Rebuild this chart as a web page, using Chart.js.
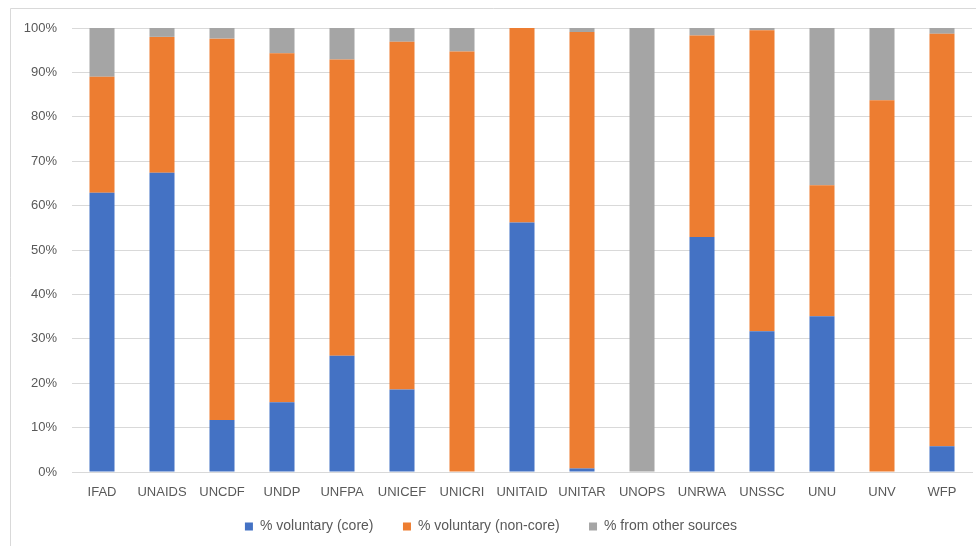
<!DOCTYPE html>
<html>
<head>
<meta charset="utf-8">
<script src="https://cdn.jsdelivr.net/npm/chart.js@4/dist/chart.umd.min.js"></script>
<style>
  html, body { margin: 0; padding: 0; background: #ffffff; }
  #wrap { width: 976px; height: 546px; position: relative; }
</style>
</head>
<body>
<div id="wrap"><canvas id="c" width="976" height="546"></canvas></div>
<script>
const categories = ['IFAD','UNAIDS','UNCDF','UNDP','UNFPA','UNICEF','UNICRI','UNITAID','UNITAR','UNOPS','UNRWA','UNSSC','UNU','UNV','WFP'];
const voluntaryCore    = [62.9, 67.4, 11.7, 15.7, 26.2, 18.6, 0,    56.2, 0.8,  0,   52.9, 31.7, 35.1, 0,    5.8];
const voluntaryNonCore = [26.1, 30.6, 85.9, 78.6, 66.7, 78.3, 94.7, 43.8, 98.3, 0,   45.4, 67.8, 29.5, 83.7, 92.9];
const otherSources     = [11.0, 2.0,  2.4,  5.7,  7.1,  3.1,  5.3,  0,    0.9,  100, 1.7,  0.5,  35.4, 16.3, 1.3];
const seriesNames = ['% voluntary (core)', '% voluntary (non-core)', '% from other sources'];
const yTicks = [0,10,20,30,40,50,60,70,80,90,100];

const framePlugin = {
  id: 'frame',
  beforeDraw(chart) {
    const ctx = chart.ctx;
    ctx.save();
    ctx.fillStyle = '#ffffff';
    ctx.fillRect(0, 0, chart.width, chart.height);
    ctx.strokeStyle = '#d9d9d9';
    ctx.lineWidth = 1;
    ctx.beginPath();
    ctx.moveTo(10.5, chart.height + 2);
    ctx.lineTo(10.5, 8.5);
    ctx.lineTo(chart.width + 2, 8.5);
    ctx.stroke();
    ctx.restore();
  }
};

const FONT = "'Liberation Sans', Arial, sans-serif";

new Chart(document.getElementById('c'), {
  type: 'bar',
  data: {
    labels: categories,
    datasets: [
      { label: seriesNames[0], data: voluntaryCore, backgroundColor: '#4472C4' },
      { label: seriesNames[1], data: voluntaryNonCore, backgroundColor: '#ED7D31' },
      { label: seriesNames[2], data: otherSources, backgroundColor: '#A5A5A5' }
    ]
  },
  options: {
    responsive: false,
    animation: false,
    devicePixelRatio: 1,
    layout: { padding: { left: 10, right: 4, top: 28, bottom: 2.5 } },
    datasets: { bar: { categoryPercentage: 1.0, barPercentage: 0.417 } },
    scales: {
      x: {
        stacked: true,
        grid: { display: false, drawTicks: false },
        border: { display: true, color: '#d9d9d9', width: 1 },
        ticks: { color: '#595959', font: { family: FONT, size: 13 }, padding: 13, maxRotation: 0, autoSkip: false },
        afterFit(scale) { scale.height = 37.5; }
      },
      y: {
        stacked: true,
        min: 0, max: 100,
        afterBuildTicks(scale) { scale.ticks = yTicks.map(v => ({ value: v })); },
        grid: { color: '#d9d9d9', lineWidth: 1, drawTicks: false },
        border: { display: false },
        ticks: { color: '#595959', font: { family: FONT, size: 13 }, padding: 15, callback: v => v + '%' },
        afterFit(scale) { scale.width = 62; }
      }
    },
    plugins: {
      legend: {
        position: 'bottom',
        labels: {
          boxWidth: 8, boxHeight: 8, padding: 10,
          color: '#595959',
          font: { family: FONT, size: 14 },
          generateLabels(chart) {
            const items = Chart.defaults.plugins.legend.labels.generateLabels(chart);
            items.forEach((it, i) => {
              it.lineWidth = 0;
              if (i < items.length - 1) it.text = it.text + '\u00a0\u00a0\u00a0\u00a0\u00a0';
            });
            return items;
          }
        }
      },
      tooltip: { enabled: false }
    }
  },
  plugins: [framePlugin]
});
</script>
</body>
</html>
